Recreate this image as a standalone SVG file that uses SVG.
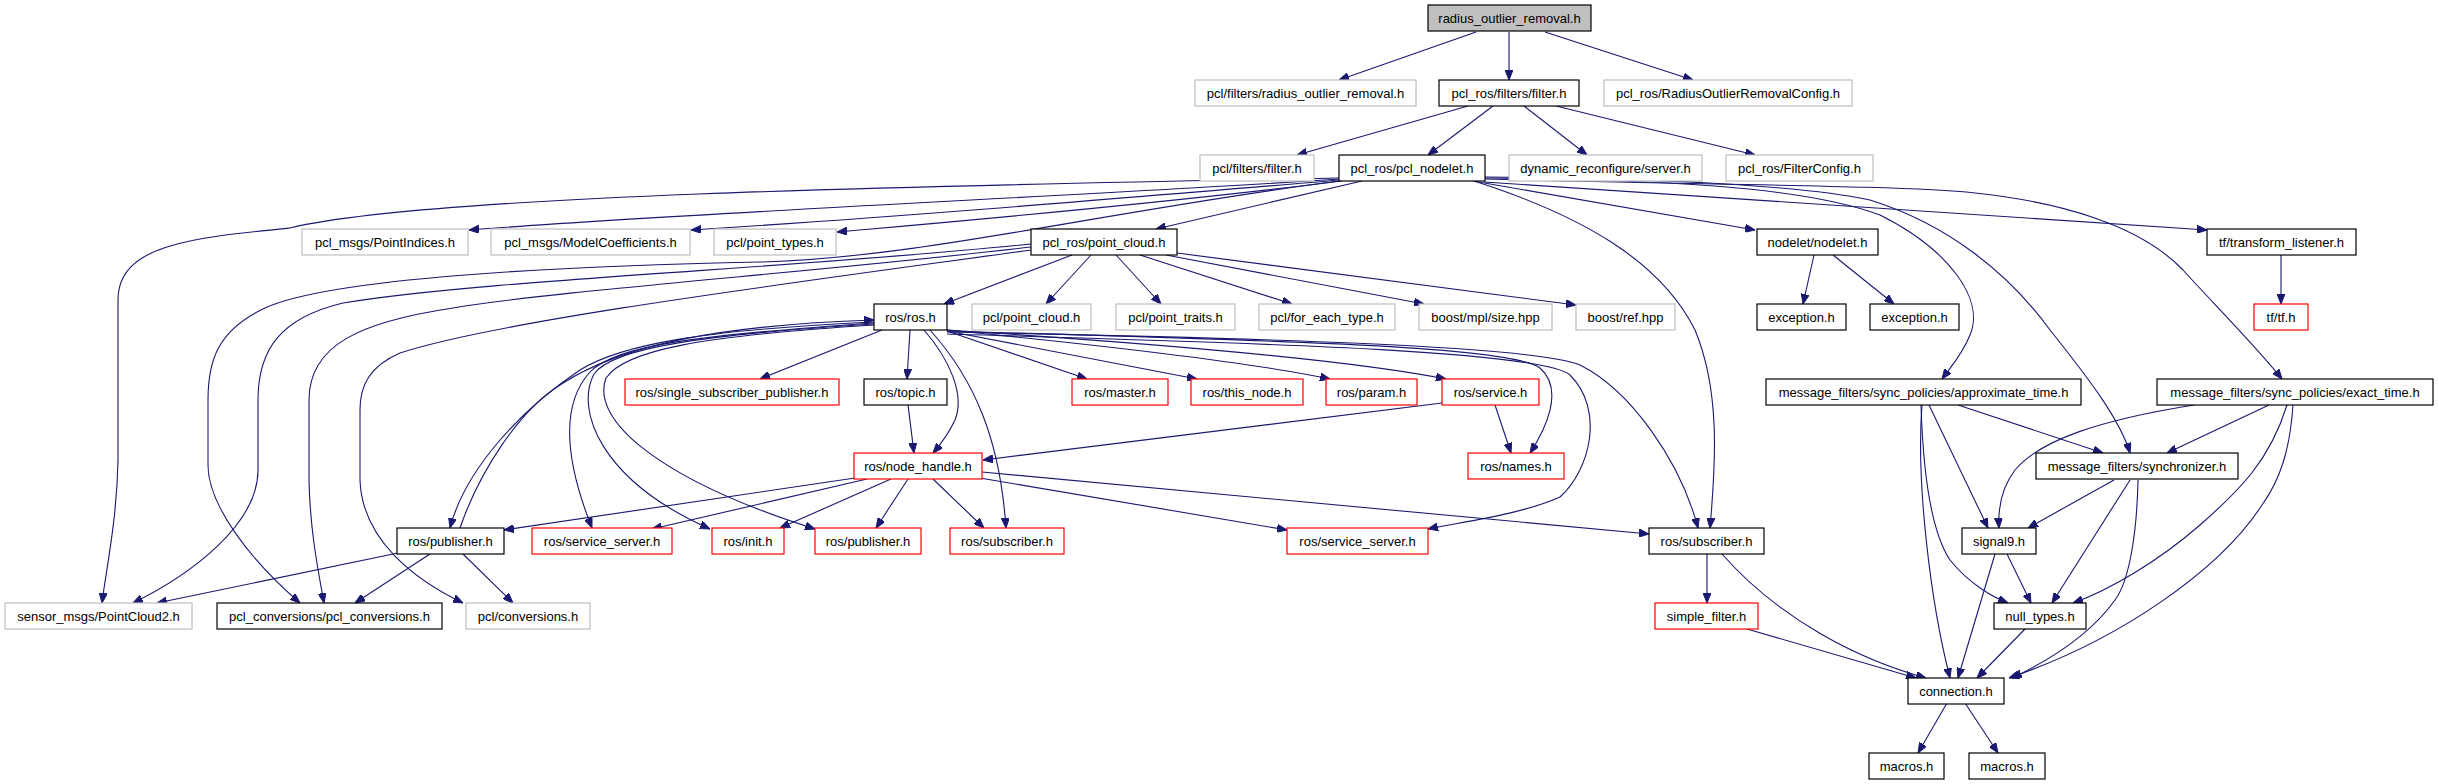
<svg xmlns="http://www.w3.org/2000/svg" width="2439" height="784" viewBox="0 0 2439 784">
<style>
rect{fill:#fff;stroke-width:1.2}
.k rect{stroke:#000}
.g rect{stroke:#bfbfbf}
.r rect{stroke:#ff0000}
.root rect{fill:#bfbfbf;stroke:#000}
text{font-family:"Liberation Sans",Arial,sans-serif;font-size:13px;fill:#000;text-anchor:middle}
#edges path{fill:none;stroke:#191970;stroke-width:1.1}
</style>
<defs>
<marker id="a" markerWidth="10" markerHeight="8" refX="10" refY="4" orient="auto" markerUnits="userSpaceOnUse"><path d="M0,0 L10,4 L0,8 z" fill="#191970" stroke="#191970" stroke-width="1"/></marker>
</defs>
<rect x="0" y="0" width="2439" height="784" style="fill:#fff;stroke:none"/>
<g id="edges" marker-end="url(#a)">
<path d="M1476,32 L1339,80" marker-end="url(#a)"/>
<path d="M1509,32 L1509,80" marker-end="url(#a)"/>
<path d="M1545,32 L1693,80" marker-end="url(#a)"/>
<path d="M1468,106 L1297,155" marker-end="url(#a)"/>
<path d="M1493,106 L1428,155" marker-end="url(#a)"/>
<path d="M1524,106 L1587,155" marker-end="url(#a)"/>
<path d="M1556,106 L1755,155" marker-end="url(#a)"/>
<path d="M1339,179 C1100,195 700,212 469,230" marker-end="url(#a)"/>
<path d="M1340,180 C1100,200 900,217 691,230" marker-end="url(#a)"/>
<path d="M1342,181 C1150,205 950,222 837,232" marker-end="url(#a)"/>
<path d="M1362,181 L1156,229" marker-end="url(#a)"/>
<path d="M1339,178 C900,186 420,196 290,228 C190,238 118,245 118,300 L118,460 C117,520 106,570 102,603" marker-end="url(#a)"/>
<path d="M1339,181 C1100,212 920,258 760,262 C560,266 330,278 265,308 C218,330 208,360 208,400 L208,465 C208,505 250,560 300,603" marker-end="url(#a)"/>
<path d="M1031,244 C800,268 480,280 343,303 C280,318 258,350 258,400 L258,470 C258,525 190,575 133,603" marker-end="url(#a)"/>
<path d="M1031,247 C820,272 560,290 453,308 C360,322 309,345 309,400 L309,480 C310,530 318,570 324,603" marker-end="url(#a)"/>
<path d="M1031,250 C800,282 500,320 400,353 C370,366 360,385 360,410 L360,480 C362,540 415,580 463,603" marker-end="url(#a)"/>
<path d="M1072,255 L944,304" marker-end="url(#a)"/>
<path d="M1091,255 L1046,304" marker-end="url(#a)"/>
<path d="M1116,255 L1161,304" marker-end="url(#a)"/>
<path d="M1140,255 L1292,304" marker-end="url(#a)"/>
<path d="M1166,255 L1424,304" marker-end="url(#a)"/>
<path d="M1177,253 L1576,305" marker-end="url(#a)"/>
<path d="M1473,181 L1755,230" marker-end="url(#a)"/>
<path d="M1484,182 L2207,230" marker-end="url(#a)"/>
<path d="M1485,178 C1650,180 1800,185 1880,215 C1950,250 1985,300 1970,335 C1962,355 1950,368 1942,379" marker-end="url(#a)"/>
<path d="M1485,177 C1650,178 1800,185 1870,200 C1950,225 2010,275 2050,330 C2090,380 2120,420 2130,453" marker-end="url(#a)"/>
<path d="M1485,179 C1700,185 1900,185 1975,193 C2060,202 2140,225 2183,270 C2210,300 2255,345 2282,379" marker-end="url(#a)"/>
<path d="M1474,181 C1580,215 1660,260 1695,330 C1720,390 1716,460 1710,528" marker-end="url(#a)"/>
<path d="M1814,255 L1803,304" marker-end="url(#a)"/>
<path d="M1833,255 L1894,304" marker-end="url(#a)"/>
<path d="M2281,255 L2281,304" marker-end="url(#a)"/>
<path d="M882,330 L760,379" marker-end="url(#a)"/>
<path d="M910,330 L907,379" marker-end="url(#a)"/>
<path d="M924,330 C950,360 965,395 955,420 C948,435 940,445 933,453" marker-end="url(#a)"/>
<path d="M930,330 C975,380 1000,440 1006,528" marker-end="url(#a)"/>
<path d="M947,331 L1087,379" marker-end="url(#a)"/>
<path d="M947,331 L1197,379" marker-end="url(#a)"/>
<path d="M947,330 C1100,345 1250,362 1330,379" marker-end="url(#a)"/>
<path d="M947,330 C1150,343 1350,360 1446,379" marker-end="url(#a)"/>
<path d="M947,331 C1250,340 1510,345 1540,368 C1565,390 1545,430 1530,453" marker-end="url(#a)"/>
<path d="M947,334 C1250,343 1540,350 1570,375 C1605,410 1590,470 1560,497 C1520,515 1460,522 1428,529" marker-end="url(#a)"/>
<path d="M947,332 C1250,338 1530,345 1580,365 C1630,390 1680,460 1698,528" marker-end="url(#a)"/>
<path d="M874,322 C700,330 620,345 580,370 C520,410 465,470 450,528" marker-end="url(#a)"/>
<path d="M460,528 C480,470 520,410 560,385 C620,345 720,325 874,320" marker-end="url(#a)"/>
<path d="M874,323 C700,335 615,345 590,372 C560,405 565,460 592,528" marker-end="url(#a)"/>
<path d="M874,324 C700,335 612,348 594,374 C575,410 600,480 710,529" marker-end="url(#a)"/>
<path d="M874,325 C700,336 625,350 606,378 C590,420 660,480 815,529" marker-end="url(#a)"/>
<path d="M908,405 L914,453" marker-end="url(#a)"/>
<path d="M1442,403 L983,460" marker-end="url(#a)"/>
<path d="M1495,405 L1511,453" marker-end="url(#a)"/>
<path d="M855,478 L504,530" marker-end="url(#a)"/>
<path d="M867,479 L652,529" marker-end="url(#a)"/>
<path d="M891,479 L780,528" marker-end="url(#a)"/>
<path d="M908,479 L876,528" marker-end="url(#a)"/>
<path d="M933,479 L984,528" marker-end="url(#a)"/>
<path d="M980,478 L1287,530" marker-end="url(#a)"/>
<path d="M982,472 L1649,534" marker-end="url(#a)"/>
<path d="M1958,405 L2103,453" marker-end="url(#a)"/>
<path d="M1929,405 L1988,528" marker-end="url(#a)"/>
<path d="M1921,405 C1923,470 1930,530 1950,560 C1970,585 1995,598 2008,603" marker-end="url(#a)"/>
<path d="M1922,405 C1916,480 1930,600 1950,678" marker-end="url(#a)"/>
<path d="M2269,405 L2167,453" marker-end="url(#a)"/>
<path d="M2194,405 C2100,420 2040,440 2015,470 C2000,490 1998,510 1999,528" marker-end="url(#a)"/>
<path d="M2287,405 C2270,460 2240,490 2200,525 C2160,560 2110,590 2073,603" marker-end="url(#a)"/>
<path d="M2293,405 C2290,450 2280,480 2262,505 C2220,570 2120,640 2009,678" marker-end="url(#a)"/>
<path d="M2114,480 L2028,528" marker-end="url(#a)"/>
<path d="M2130,480 L2052,603" marker-end="url(#a)"/>
<path d="M2138,480 C2137,530 2130,580 2115,600 C2090,635 2050,660 2012,678" marker-end="url(#a)"/>
<path d="M1995,554 L1958,678" marker-end="url(#a)"/>
<path d="M2007,554 L2031,603" marker-end="url(#a)"/>
<path d="M2025,629 L1977,678" marker-end="url(#a)"/>
<path d="M1707,554 L1707,603" marker-end="url(#a)"/>
<path d="M1722,554 C1780,620 1860,660 1926,678" marker-end="url(#a)"/>
<path d="M1747,629 L1916,678" marker-end="url(#a)"/>
<path d="M1947,703 L1918,753" marker-end="url(#a)"/>
<path d="M1965,703 L1998,753" marker-end="url(#a)"/>
<path d="M398,553 L157,603" marker-end="url(#a)"/>
<path d="M430,554 L355,603" marker-end="url(#a)"/>
<path d="M463,554 L513,603" marker-end="url(#a)"/>
</g>
<g id="n0" class="root"><rect x="1428" y="5" width="163" height="26"/><text x="1509.5" y="22.5">radius_outlier_removal.h</text></g>
<g id="n1" class="g"><rect x="1195" y="80" width="221" height="26"/><text x="1305.5" y="97.5">pcl/filters/radius_outlier_removal.h</text></g>
<g id="n2" class="k"><rect x="1439" y="80" width="140" height="26"/><text x="1509" y="97.5">pcl_ros/filters/filter.h</text></g>
<g id="n3" class="g"><rect x="1604" y="80" width="248" height="26"/><text x="1728" y="97.5">pcl_ros/RadiusOutlierRemovalConfig.h</text></g>
<g id="n4" class="g"><rect x="1200" y="155" width="114" height="26"/><text x="1257" y="172.5">pcl/filters/filter.h</text></g>
<g id="n5" class="k"><rect x="1339" y="155" width="146" height="26"/><text x="1412" y="172.5">pcl_ros/pcl_nodelet.h</text></g>
<g id="n6" class="g"><rect x="1509" y="155" width="193" height="26"/><text x="1605.5" y="172.5">dynamic_reconfigure/server.h</text></g>
<g id="n7" class="g"><rect x="1726" y="155" width="147" height="26"/><text x="1799.5" y="172.5">pcl_ros/FilterConfig.h</text></g>
<g id="n8" class="g"><rect x="302" y="229" width="166" height="26"/><text x="385" y="246.5">pcl_msgs/PointIndices.h</text></g>
<g id="n9" class="g"><rect x="491" y="229" width="199" height="26"/><text x="590.5" y="246.5">pcl_msgs/ModelCoefficients.h</text></g>
<g id="n10" class="g"><rect x="714" y="229" width="122" height="26"/><text x="775" y="246.5">pcl/point_types.h</text></g>
<g id="n11" class="k"><rect x="1031" y="229" width="146" height="26"/><text x="1104" y="246.5">pcl_ros/point_cloud.h</text></g>
<g id="n12" class="k"><rect x="1757" y="229" width="121" height="26"/><text x="1817.5" y="246.5">nodelet/nodelet.h</text></g>
<g id="n13" class="k"><rect x="2207" y="229" width="149" height="26"/><text x="2281.5" y="246.5">tf/transform_listener.h</text></g>
<g id="n14" class="k"><rect x="874" y="304" width="73" height="26"/><text x="910.5" y="321.5">ros/ros.h</text></g>
<g id="n15" class="g"><rect x="972" y="304" width="119" height="26"/><text x="1031.5" y="321.5">pcl/point_cloud.h</text></g>
<g id="n16" class="g"><rect x="1116" y="304" width="119" height="26"/><text x="1175.5" y="321.5">pcl/point_traits.h</text></g>
<g id="n17" class="g"><rect x="1259" y="304" width="136" height="26"/><text x="1327" y="321.5">pcl/for_each_type.h</text></g>
<g id="n18" class="g"><rect x="1419" y="304" width="133" height="26"/><text x="1485.5" y="321.5">boost/mpl/size.hpp</text></g>
<g id="n19" class="g"><rect x="1576" y="304" width="99" height="26"/><text x="1625.5" y="321.5">boost/ref.hpp</text></g>
<g id="n20" class="k"><rect x="1757" y="304" width="89" height="26"/><text x="1801.5" y="321.5">exception.h</text></g>
<g id="n21" class="k"><rect x="1870" y="304" width="89" height="26"/><text x="1914.5" y="321.5">exception.h</text></g>
<g id="n22" class="r"><rect x="2254" y="304" width="54" height="26"/><text x="2281" y="321.5">tf/tf.h</text></g>
<g id="n23" class="r"><rect x="625" y="379" width="214" height="26"/><text x="732" y="396.5">ros/single_subscriber_publisher.h</text></g>
<g id="n24" class="k"><rect x="864" y="379" width="83" height="26"/><text x="905.5" y="396.5">ros/topic.h</text></g>
<g id="n25" class="r"><rect x="1072" y="379" width="96" height="26"/><text x="1120" y="396.5">ros/master.h</text></g>
<g id="n26" class="r"><rect x="1191" y="379" width="112" height="26"/><text x="1247" y="396.5">ros/this_node.h</text></g>
<g id="n27" class="r"><rect x="1326" y="379" width="91" height="26"/><text x="1371.5" y="396.5">ros/param.h</text></g>
<g id="n28" class="r"><rect x="1442" y="379" width="97" height="26"/><text x="1490.5" y="396.5">ros/service.h</text></g>
<g id="n29" class="k"><rect x="1766" y="379" width="315" height="26"/><text x="1923.5" y="396.5">message_filters/sync_policies/approximate_time.h</text></g>
<g id="n30" class="k"><rect x="2157" y="379" width="276" height="26"/><text x="2295" y="396.5">message_filters/sync_policies/exact_time.h</text></g>
<g id="n31" class="r"><rect x="854" y="453" width="128" height="26"/><text x="918" y="470.5">ros/node_handle.h</text></g>
<g id="n32" class="r"><rect x="1468" y="453" width="96" height="26"/><text x="1516" y="470.5">ros/names.h</text></g>
<g id="n33" class="k"><rect x="2036" y="453" width="202" height="26"/><text x="2137" y="470.5">message_filters/synchronizer.h</text></g>
<g id="n34" class="k"><rect x="397" y="528" width="107" height="26"/><text x="450.5" y="545.5">ros/publisher.h</text></g>
<g id="n35" class="r"><rect x="532" y="528" width="140" height="26"/><text x="602" y="545.5">ros/service_server.h</text></g>
<g id="n36" class="r"><rect x="712" y="528" width="72" height="26"/><text x="748" y="545.5">ros/init.h</text></g>
<g id="n37" class="r"><rect x="815" y="528" width="106" height="26"/><text x="868" y="545.5">ros/publisher.h</text></g>
<g id="n38" class="r"><rect x="950" y="528" width="114" height="26"/><text x="1007" y="545.5">ros/subscriber.h</text></g>
<g id="n39" class="r"><rect x="1287" y="528" width="141" height="26"/><text x="1357.5" y="545.5">ros/service_server.h</text></g>
<g id="n40" class="k"><rect x="1649" y="528" width="115" height="26"/><text x="1706.5" y="545.5">ros/subscriber.h</text></g>
<g id="n41" class="k"><rect x="1962" y="528" width="74" height="26"/><text x="1999" y="545.5">signal9.h</text></g>
<g id="n42" class="g"><rect x="5" y="603" width="187" height="26"/><text x="98.5" y="620.5">sensor_msgs/PointCloud2.h</text></g>
<g id="n43" class="k"><rect x="217" y="603" width="225" height="26"/><text x="329.5" y="620.5">pcl_conversions/pcl_conversions.h</text></g>
<g id="n44" class="g"><rect x="466" y="603" width="124" height="26"/><text x="528" y="620.5">pcl/conversions.h</text></g>
<g id="n45" class="r"><rect x="1655" y="603" width="103" height="26"/><text x="1706.5" y="620.5">simple_filter.h</text></g>
<g id="n46" class="k"><rect x="1994" y="603" width="92" height="26"/><text x="2040" y="620.5">null_types.h</text></g>
<g id="n47" class="k"><rect x="1908" y="678" width="96" height="26"/><text x="1956" y="695.5">connection.h</text></g>
<g id="n48" class="k"><rect x="1869" y="753" width="75" height="26"/><text x="1906.5" y="770.5">macros.h</text></g>
<g id="n49" class="k"><rect x="1969" y="753" width="76" height="26"/><text x="2007" y="770.5">macros.h</text></g>
</svg>
